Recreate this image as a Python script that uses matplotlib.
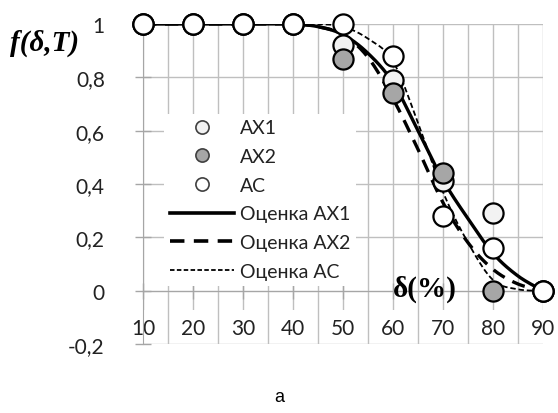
import numpy as np
import matplotlib
matplotlib.use("Agg")
import matplotlib.pyplot as plt
from matplotlib.lines import Line2D

# ---- data ----
x_pts = [10, 20, 30, 40, 50, 60, 70, 80, 90]
ax1_pts = [1, 1, 1, 1, 0.92, 0.79, 0.41, 0.29, 0]
ax2_pts = [1, 1, 1, 1, 0.87, 0.74, 0.44, 0.0, 0]
ac_pts = [1, 1, 1, 1, 1.0, 0.88, 0.28, 0.16, 0]

x_est = [10, 15, 20, 25, 30, 35, 40, 45, 50, 55, 60, 65, 70, 75, 80, 85, 90]
est_ax1 = [1, 1, 1, 1, 1, 1, 1, 0.99, 0.96, 0.89, 0.78, 0.60, 0.415, 0.27, 0.14, 0.055, 0.0]
est_ax2 = [1, 1, 1, 1, 1, 1, 1, 0.99, 0.96, 0.875, 0.72, 0.53, 0.33, 0.18, 0.08, 0.025, 0.0]
est_ac = [1, 1, 1, 1, 1, 1, 1, 1.0, 0.99, 0.945, 0.86, 0.63, 0.37, 0.18, 0.04, 0.005, 0.0]

x_ticks = [10, 20, 30, 40, 50, 60, 70, 80, 90]
y_ticks = [-0.2, 0, 0.2, 0.4, 0.6, 0.8, 1]
y_labels = ["-0,2", "0", "0,2", "0,4", "0,6", "0,8", "1"]

labels_pts = ["АХ1", "АХ2", "АС"]
labels_est = ["Оценка АХ1", "Оценка АХ2", "Оценка АС"]


def smooth(x, y, n=20):
    """Catmull-Rom rendering of a smoothed line (like Excel's smoothed line)."""
    x = np.asarray(x, float)
    y = np.asarray(y, float)
    P = np.column_stack([x, y])
    P = np.vstack([P[0], P, P[-1]])
    out = []
    t = np.linspace(0, 1, n, endpoint=False)
    for i in range(1, len(P) - 2):
        p0, p1, p2, p3 = P[i - 1], P[i], P[i + 1], P[i + 2]
        t2, t3 = t * t, t * t * t
        seg = 0.5 * ((2 * p1)[None, :] + (-p0 + p2)[None, :] * t[:, None]
                     + (2 * p0 - 5 * p1 + 4 * p2 - p3)[None, :] * t2[:, None]
                     + (-p0 + 3 * p1 - 3 * p2 + p3)[None, :] * t3[:, None])
        out.append(seg)
    out.append(P[-2][None, :])
    out = np.vstack(out)
    return out[:, 0], out[:, 1]


plt.rcParams['font.family'] = ['Lato', 'DejaVu Sans']

fig = plt.figure(figsize=(5.58, 4.14), dpi=100)
ax = fig.add_axes([143 / 558, 1 - 345 / 414, 400 / 558, 320 / 414])

grid_c = '#bfbfbf'
ax.set_xlim(10, 90)
ax.set_ylim(-0.2, 1)
ax.set_xticks(x_ticks)
ax.set_xticks([15, 25, 35, 45, 55, 65, 75, 85], minor=True)
ax.set_yticks(y_ticks)
ax.set_yticklabels(y_labels)
ax.grid(True, which='both', axis='x', color=grid_c, lw=1.0)
ax.grid(True, which='major', axis='y', color=grid_c, lw=1.0)

for s in ['top', 'right']:
    ax.spines[s].set_visible(False)
ax.spines['bottom'].set_position(('data', 0))
ax.spines['bottom'].set_color('#a6a6a6')
ax.spines['left'].set_color('#a6a6a6')

ax.tick_params(axis='x', which='major', direction='inout', length=12, width=1,
               color='#a6a6a6', labelsize=15, pad=14, labelcolor='#222222')
ax.tick_params(axis='x', which='minor', length=0)
ax.tick_params(axis='y', direction='inout', length=11, width=1,
               color='#a6a6a6', labelsize=15, pad=22, labelcolor='#222222')
for lab in ax.get_xticklabels():
    lab.set_bbox(dict(facecolor='white', edgecolor='none', pad=6))

# estimated curves
for yv, ls, lw in [(est_ax1, '-', 2.4), (est_ax2, (0, (4, 2.6)), 2.4),
                   (est_ac, (0, (3, 1.6)), 1.3)]:
    sx, sy = smooth(x_est, yv)
    ax.plot(sx, sy, color='black', lw=lw, ls=ls, zorder=3, solid_capstyle='butt')

# points
ax.plot(x_pts, ax1_pts, 'o', ms=14.5, mfc='#f2f2f2', mec='black', mew=1.6, ls='none',
        zorder=4, clip_on=False)
ax.plot(x_pts, ax2_pts, 'o', ms=14.5, mfc='#a6a6a6', mec='black', mew=1.6, ls='none',
        zorder=5, clip_on=False)
ax.plot(x_pts, ac_pts, 'o', ms=14.5, mfc='white', mec='black', mew=1.6, ls='none',
        zorder=6, clip_on=False)

handles = [
    Line2D([], [], marker='o', ls='none', ms=9.5, mfc='#f2f2f2', mec='#404040', mew=1.2),
    Line2D([], [], marker='o', ls='none', ms=9.5, mfc='#a6a6a6', mec='#404040', mew=1.2),
    Line2D([], [], marker='o', ls='none', ms=9.5, mfc='white', mec='#404040', mew=1.2),
    Line2D([], [], color='black', lw=2.6, ls='-'),
    Line2D([], [], color='black', lw=2.6, ls=(0, (4, 2.6))),
    Line2D([], [], color='black', lw=1.3, ls=(0, (2.5, 1.3))),
]
leg = ax.legend(handles, labels_pts + labels_est, loc='upper left',
                bbox_to_anchor=(0.053, 0.72), frameon=True, fontsize=14,
                handlelength=3.3, handletextpad=0.3, labelspacing=0.6,
                borderpad=0.3, borderaxespad=0)
leg.get_frame().set_facecolor('white')
leg.get_frame().set_edgecolor('none')
leg.get_frame().set_alpha(1)
leg.set_zorder(10)
for t in leg.get_texts():
    t.set_color('#222222')

fig.text(45 / 558, 1 - 43 / 414, 'f(δ,T)', family='Liberation Serif', fontsize=21,
         fontweight='bold', fontstyle='italic', ha='center', va='center')
ax.text(66.4, 0.01, 'δ(%)', family='Liberation Serif', fontsize=21,
        fontweight='bold', ha='center', va='center', zorder=11)
fig.text(279 / 558, 1 - 398 / 414, 'а', family='Liberation Sans', fontsize=13,
         ha='center', va='center')

fig.savefig('out.png', dpi=100)
